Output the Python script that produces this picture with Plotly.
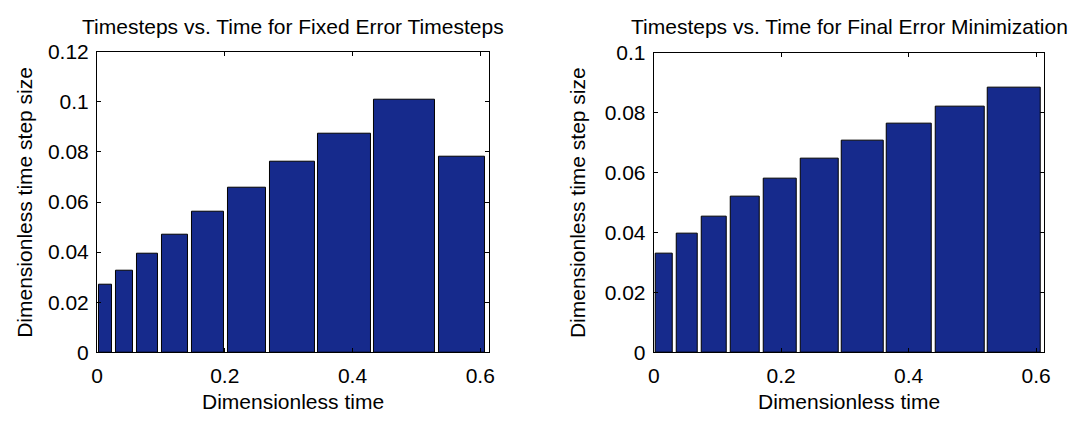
import numpy as np
import plotly.graph_objects as go

# ---- data ----
dt_fixed = [0.027, 0.0325, 0.0394, 0.047, 0.0561, 0.0657, 0.076, 0.0874, 0.1008, 0.078]
dt_final = [0.033, 0.0395, 0.0454, 0.0519, 0.0581, 0.0646, 0.0706, 0.0762, 0.0821, 0.0884]
titles = ["Timesteps vs. Time for Fixed Error Timesteps",
          "Timesteps vs. Time for Final Error Minimization"]
x_label = "Dimensionless time"
y_label = "Dimensionless time step size"
x_ticks = [0, 0.2, 0.4, 0.6]
y_ticks_fixed = [0, 0.02, 0.04, 0.06, 0.08, 0.1, 0.12]
y_ticks_final = [0, 0.02, 0.04, 0.06, 0.08, 0.1]

W, H = 1082, 421
FONT = "Liberation Sans, Arial, sans-serif"
FS = 21
BAR_COLOR = "#162a8c"
GAP = 0.0055

fig = go.Figure()

panels = [
    dict(dt=dt_fixed, yt=y_ticks_fixed, ymax=0.12, x0=92, x1=488, y0=42, y1=360, ylab_x=18, xa="x", ya="y"),
    dict(dt=dt_final, yt=y_ticks_final, ymax=0.1, x0=655, x1=1050, y0=43, y1=360, ylab_x=578, xa="x2", ya="y2"),
]

annotations = []
for i, p in enumerate(panels):
    dt = np.array(p["dt"])
    t_end = np.cumsum(dt)
    t_start = t_end - dt
    mid = t_start + dt / 2
    fig.add_trace(go.Bar(
        x=mid, y=dt, width=dt - GAP,
        marker=dict(color=BAR_COLOR, line=dict(color="black", width=1)),
        xaxis=p["xa"], yaxis=p["ya"], showlegend=False, hoverinfo="skip",
    ))
    xdom = [p["x0"] / W, p["x1"] / W]
    ydom = [1 - p["y1"] / H, 1 - p["y0"] / H]
    suffix = "" if i == 0 else "2"
    axis_common = dict(
        showline=True, linecolor="black", linewidth=1, mirror="ticks",
        ticks="inside", ticklen=4, tickcolor="black", tickwidth=1,
        showgrid=False, zeroline=False,
        tickfont=dict(family=FONT, size=FS, color="black"),
    )
    fig.update_layout(**{
        "xaxis" + suffix: dict(domain=xdom, range=[0, 0.613], tickvals=x_ticks,
                               ticktext=[f"{v:g}" for v in x_ticks],
                               ticklabelstandoff=4,
                               anchor="y" + suffix, **axis_common),
        "yaxis" + suffix: dict(domain=ydom, range=[0, p["ymax"]], tickvals=p["yt"],
                               ticktext=[f"{v:g}" for v in p["yt"]],
                               ticklabelstandoff=3,
                               anchor="x" + suffix, **axis_common),
    })
    cx = (p["x0"] + p["x1"]) / 2 / W
    annotations.append(dict(text=titles[i], x=cx, y=1 - 15 / H, xref="paper", yref="paper",
                            xanchor="center", yanchor="middle", showarrow=False,
                            font=dict(family=FONT, size=FS, color="black")))
    annotations.append(dict(text=x_label, x=cx, y=1 - 412 / H, xref="paper", yref="paper",
                            xanchor="center", yanchor="middle", showarrow=False,
                            font=dict(family=FONT, size=FS, color="black")))
    annotations.append(dict(text=y_label, x=p["ylab_x"] / W, y=1 - (p["y0"] + p["y1"]) / 2 / H,
                            xref="paper", yref="paper", textangle=-90,
                            xanchor="center", yanchor="middle", showarrow=False,
                            font=dict(family=FONT, size=FS, color="black")))

fig.update_layout(
    width=W, height=H, margin=dict(l=0, r=0, t=0, b=0),
    paper_bgcolor="white", plot_bgcolor="white",
    annotations=annotations, bargap=0,
)

fig.write_html("out.html", config={"displayModeBar": False})
